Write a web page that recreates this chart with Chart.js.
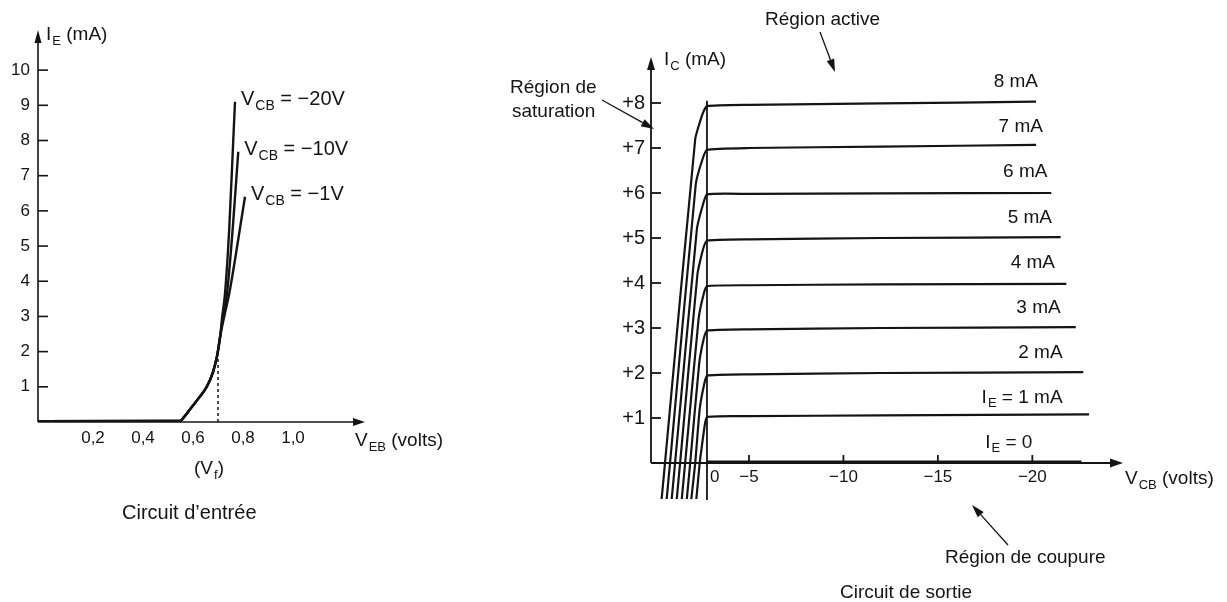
<!DOCTYPE html>
<html lang="fr">
<head>
<meta charset="utf-8">
<title>Caractéristiques du transistor en base commune</title>
<script src="https://cdn.jsdelivr.net/npm/chart.js@4.4.1/dist/chart.umd.min.js"></script>
<style>
  html, body { margin: 0; padding: 0; background: #fff; }
  body { width: 1227px; height: 602px; position: relative; overflow: hidden; }
  canvas { position: absolute; top: 0; }
  #inp { left: 0; }
  #out { left: 490px; }
</style>
</head>
<body>
<canvas id="inp" width="490" height="602"></canvas>
<canvas id="out" width="737" height="602"></canvas>
<script>
// ---------- Input characteristic: I_E (mA) vs V_EB (V) ----------
const vebTicks = [0.2, 0.4, 0.6, 0.8, 1.0];
const ieTicks = [1, 2, 3, 4, 5, 6, 7, 8, 9, 10];
const inLabels = ['V_CB = −20V', 'V_CB = −10V', 'V_CB = −1V'];

const veb20 = [-0.02, 0.548, 0.565, 0.59, 0.625, 0.655, 0.68, 0.697, 0.708, 0.717, 0.728, 0.745, 0.761, 0.768];
const ie20  = [0.02, 0.03, 0.15, 0.38, 0.7, 1.0, 1.42, 1.9, 2.4, 3.0, 3.65, 5.5, 8.0, 9.1];
const veb10 = [-0.02, 0.548, 0.565, 0.59, 0.625, 0.655, 0.68, 0.697, 0.708, 0.72, 0.736, 0.76, 0.781];
const ie10  = [0.02, 0.03, 0.15, 0.38, 0.7, 1.0, 1.42, 1.9, 2.4, 3.0, 3.65, 5.6, 7.68];
const veb1  = [-0.02, 0.548, 0.565, 0.59, 0.625, 0.655, 0.68, 0.697, 0.708, 0.725, 0.745, 0.77, 0.79, 0.808];
const ie1   = [0.02, 0.03, 0.15, 0.38, 0.7, 1.0, 1.42, 1.9, 2.4, 3.0, 3.65, 4.7, 5.6, 6.4];
const vfVeb = [0.70, 0.70];
const vfIe  = [0, 1.85];

// ---------- Output characteristic: I_C (mA) vs V_CB (V) ----------
const vcbTicks = [0, -5, -10, -15, -20];
const icTicks = [1, 2, 3, 4, 5, 6, 7, 8];
const ieSteps = [0, 1, 2, 3, 4, 5, 6, 7, 8];
const outLabels = ['I_E = 0', 'I_E = 1 mA', '2 mA', '3 mA', '4 mA', '5 mA', '6 mA', '7 mA', '8 mA'];

const vcb8 = [0.81, 0.75, 0.21, 0.08, 0, -5, -12, -20.2];
const ic8  = [-0.8, 0, 7.2, 7.75, 7.93, 7.96, 7.99, 8.03];
const vcb7 = [0.72, 0.66, 0.20, 0.08, 0, -5, -12, -20.2];
const ic7  = [-0.8, 0, 6.2, 6.75, 6.96, 7.0, 7.03, 7.07];
const vcb6 = [0.63, 0.57, 0.18, 0.07, 0, -5, -12, -21.0];
const ic6  = [-0.8, 0, 5.2, 5.75, 5.97, 5.98, 5.99, 6.0];
const vcb5 = [0.54, 0.48, 0.17, 0.07, 0, -5, -12, -21.5];
const ic5  = [-0.8, 0, 4.2, 4.75, 4.94, 4.97, 5.0, 5.02];
const vcb4 = [0.45, 0.39, 0.15, 0.06, 0, -5, -12, -21.8];
const ic4  = [-0.8, 0, 3.2, 3.75, 3.93, 3.95, 3.97, 3.98];
const vcb3 = [0.36, 0.30, 0.14, 0.06, 0, -5, -12, -22.3];
const ic3  = [-0.8, 0, 2.2, 2.75, 2.94, 2.97, 3.0, 3.02];
const vcb2 = [0.28, 0.21, 0.13, 0.05, 0, -5, -12, -22.7];
const ic2  = [-0.8, 0, 1.2, 1.75, 1.94, 1.97, 2.0, 2.02];
const vcb1 = [0.19, 0.13, 0.11, 0.05, 0, -5, -12, -23.0];
const ic1  = [-0.8, 0, 0.2, 0.75, 1.02, 1.04, 1.06, 1.08];
const vcbCut = [0, -22.6];
const icCut  = [0.03, 0.03];
const vcbZero = [0, 0];
const icZero  = [-0.82, 8.05];

// ---------- styling / layout ----------
const FAMILY = '"Liberation Sans", Arial, Helvetica, sans-serif';
const INK = '#141414';
// V_CB axis is drawn with an expanded saturation zone: [value, fraction of axis length]
const VCB_BREAKS = [[1.0, 0], [0, 0.1186], [-5, 0.2076], [-24.8, 1]];
// right edge (in V_CB) of each I_E curve label
const OUT_LABEL_V = [-20.0, -21.6, -21.6, -21.5, -21.2, -21.04, -20.8, -20.56, -20.3];

class BrokenLinearScale extends Chart.LinearScale {
  static id = 'brokenLinear';
  static defaults = {};
  _breakDecimal(v) {
    const k = VCB_BREAKS;
    let i = 0;
    while (i < k.length - 2 && v < k[i + 1][0]) i++;
    const [v0, d0] = k[i], [v1, d1] = k[i + 1];
    return d0 + (v - v0) * (d1 - d0) / (v1 - v0);
  }
  getPixelForValue(v) {
    if (v === null || v === undefined) return NaN;
    return this.getPixelForDecimal(this._breakDecimal(v));
  }
  getValueForPixel(p) {
    const d = this.getDecimalForPixel(p);
    const k = VCB_BREAKS;
    let i = 0;
    while (i < k.length - 2 && d > k[i + 1][1]) i++;
    const [v0, d0] = k[i], [v1, d1] = k[i + 1];
    return v0 + (d - d0) * (v1 - v0) / (d1 - d0);
  }
}
Chart.register(BrokenLinearScale);

const pts = (xs, ys) => xs.map((x, i) => ({ x, y: ys[i] }));

function seg(ctx, x1, y1, x2, y2) {
  ctx.beginPath(); ctx.moveTo(x1, y1); ctx.lineTo(x2, y2); ctx.stroke();
}
function arrow(ctx, x1, y1, x2, y2, len, half) {
  const a = Math.atan2(y2 - y1, x2 - x1);
  const bx = x2 - len * Math.cos(a), by = y2 - len * Math.sin(a);
  seg(ctx, x1, y1, bx, by);
  ctx.beginPath();
  ctx.moveTo(x2, y2);
  ctx.lineTo(bx + half * Math.sin(a), by - half * Math.cos(a));
  ctx.lineTo(bx - half * Math.sin(a), by + half * Math.cos(a));
  ctx.closePath(); ctx.fill();
}
// text with "_XX" subscripts
function rich(ctx, text, x, y, size, align) {
  const parts = [];
  text.split(/_([A-Za-z]+)/).forEach((s, i) => { if (s) parts.push([s, i % 2 === 1]); });
  const sub = Math.round(size * 0.68);
  const fontOf = p => (p[1] ? sub : size) + 'px ' + FAMILY;
  let w = 0;
  parts.forEach(p => { ctx.font = fontOf(p); w += ctx.measureText(p[0]).width + (p[1] ? 1 : 0); });
  let cx = align === 'right' ? x - w : align === 'center' ? x - w / 2 : x;
  ctx.textAlign = 'left'; ctx.textBaseline = 'alphabetic';
  parts.forEach(p => {
    ctx.font = fontOf(p);
    ctx.fillText(p[0], cx + (p[1] ? 1 : 0), p[1] ? y + size * 0.24 : y);
    cx += ctx.measureText(p[0]).width + (p[1] ? 1 : 0);
  });
}

const curve = (data, extra) => Object.assign({
  data, showLine: true, pointRadius: 0, borderColor: INK, borderWidth: 2.2,
  borderJoinStyle: 'round', fill: false
}, extra || {});

// ---------- decorations ----------
const inputDecor = {
  id: 'inputDecor',
  afterDraw(chart) {
    const { ctx, chartArea: a, scales: { x, y } } = chart;
    ctx.save();
    ctx.strokeStyle = INK; ctx.fillStyle = INK; ctx.lineWidth = 1.6;
    const y0 = y.getPixelForValue(0);
    arrow(ctx, a.left, y0, a.left, a.top, 13, 3.5);
    arrow(ctx, a.left, y0, a.right, y0, 12, 4);
    ieTicks.forEach(v => { const py = y.getPixelForValue(v); seg(ctx, a.left, py, a.left + 10, py); });

    const ends = [[veb20, ie20], [veb10, ie10], [veb1, ie1]];
    ends.forEach(([vx, vy], i) => {
      const px = x.getPixelForValue(vx[vx.length - 1]);
      const py = y.getPixelForValue(vy[vy.length - 1]);
      rich(ctx, inLabels[i], px + 6, py + 3, 20, 'left');
    });
    rich(ctx, 'I_E (mA)', 46, 40, 19, 'left');
    rich(ctx, 'V_EB (volts)', 355, 446, 19, 'left');
    rich(ctx, '(V_f)', 209, 474, 19, 'center');
    rich(ctx, 'Circuit d’entrée', 122, 519, 20, 'left');
    ctx.restore();
  }
};

const outputDecor = {
  id: 'outputDecor',
  afterDraw(chart) {
    const { ctx, chartArea: a, scales: { x, y } } = chart;
    ctx.save();
    ctx.strokeStyle = INK; ctx.fillStyle = INK; ctx.lineWidth = 1.8;
    const y0 = y.getPixelForValue(0);
    arrow(ctx, a.left, y0, a.left, a.top, 13, 4);
    arrow(ctx, a.left, y0, a.right, y0, 13, 4.5);
    icTicks.forEach(v => { const py = y.getPixelForValue(v); seg(ctx, a.left, py, a.left + 10, py); });
    vcbTicks.filter(v => v !== 0).forEach(v => {
      const px = x.getPixelForValue(v); seg(ctx, px, y0, px, y0 - 8);
    });
    // the origin label sits just right of the V_CB = 0 boundary line
    ctx.font = '17px ' + FAMILY; ctx.textAlign = 'left'; ctx.textBaseline = 'middle';
    ctx.fillText('0', x.getPixelForValue(0) + 3, y0 + 14);

    outLabels.forEach((t, i) => {
      rich(ctx, t, x.getPixelForValue(OUT_LABEL_V[i]), y.getPixelForValue(ieSteps[i] + 0.5) + 7, 19, 'right');
    });

    rich(ctx, 'I_C (mA)', 174, 65, 19, 'left');
    rich(ctx, 'V_CB (volts)', 635, 484, 19, 'left');
    rich(ctx, 'Région active', 275, 25, 19, 'left');
    rich(ctx, 'Région de', 20, 93, 19, 'left');
    rich(ctx, 'saturation', 22, 117, 19, 'left');
    rich(ctx, 'Région de coupure', 455, 563, 19, 'left');
    rich(ctx, 'Circuit de sortie', 350, 598, 19, 'left');

    ctx.lineWidth = 1.3;
    arrow(ctx, 330, 32, 345, 72, 13, 4);
    arrow(ctx, 112, 100, 164, 129, 13, 4);
    arrow(ctx, 518, 545, 482, 505, 13, 4);
    ctx.restore();
  }
};

const tickFont = size => ({ family: FAMILY, size });
const noGrid = { display: false, drawTicks: false };

// ---------- input chart ----------
new Chart(document.getElementById('inp'), {
  type: 'scatter',
  data: {
    datasets: [
      curve(pts(veb20, ie20), { cubicInterpolationMode: 'monotone', borderWidth: 2.4 }),
      curve(pts(veb10, ie10), { cubicInterpolationMode: 'monotone', borderWidth: 2.4 }),
      curve(pts(veb1, ie1), { cubicInterpolationMode: 'monotone', borderWidth: 2.4 }),
      curve(pts(vfVeb, vfIe), { borderDash: [3, 3], borderWidth: 1.5 })
    ]
  },
  options: {
    responsive: false, animation: false, events: [],
    layout: { padding: { left: 0, top: 30, right: 125, bottom: 0 } },
    plugins: { legend: { display: false }, tooltip: { enabled: false } },
    scales: {
      x: {
        type: 'linear', min: -0.02, max: 1.288,
        grid: noGrid, border: { display: false },
        afterBuildTicks: s => { s.ticks = vebTicks.map(v => ({ value: v })); },
        afterFit: s => { s.height = 180; },
        ticks: {
          autoSkip: false, maxRotation: 0, padding: 6, color: INK, font: tickFont(17),
          callback: v => Number(v).toFixed(1).replace('.', ',')
        }
      },
      y: {
        type: 'linear', min: 0, max: 11.14,
        grid: noGrid, border: { display: false },
        afterBuildTicks: s => { s.ticks = ieTicks.map(v => ({ value: v })); },
        afterFit: s => { s.width = 38; },
        ticks: { autoSkip: false, padding: 8, color: INK, font: tickFont(17), callback: v => String(v) }
      }
    }
  },
  plugins: [inputDecor]
});

// ---------- output chart ----------
new Chart(document.getElementById('out'), {
  type: 'scatter',
  data: {
    datasets: [
      curve(pts(vcbZero, icZero), { borderWidth: 1.8 }),
      curve(pts(vcbCut, icCut), { borderWidth: 2.4 }),
      curve(pts(vcb1, ic1), { tension: 0.15 }),
      curve(pts(vcb2, ic2), { tension: 0.15 }),
      curve(pts(vcb3, ic3), { tension: 0.15 }),
      curve(pts(vcb4, ic4), { tension: 0.15 }),
      curve(pts(vcb5, ic5), { tension: 0.15 }),
      curve(pts(vcb6, ic6), { tension: 0.15 }),
      curve(pts(vcb7, ic7), { tension: 0.15 }),
      curve(pts(vcb8, ic8), { tension: 0.15 })
    ]
  },
  options: {
    responsive: false, animation: false, events: [],
    layout: { padding: { left: 0, top: 57, right: 104, bottom: 101 } },
    plugins: { legend: { display: false }, tooltip: { enabled: false } },
    scales: {
      x: {
        type: 'brokenLinear', min: -24.8, max: 1.0, position: { y: 0 },
        grid: noGrid, border: { display: false },
        afterBuildTicks: s => { s.ticks = vcbTicks.map(v => ({ value: v })); },
        ticks: {
          autoSkip: false, maxRotation: 0, padding: 4, color: INK, font: tickFont(17),
          callback: v => (v === 0 ? '' : '−' + Math.abs(v))
        }
      },
      y: {
        type: 'linear', min: -0.844, max: 9.022,
        grid: noGrid, border: { display: false },
        afterBuildTicks: s => { s.ticks = icTicks.map(v => ({ value: v })); },
        afterFit: s => { s.width = 161; },
        ticks: { autoSkip: false, padding: 6, color: INK, font: tickFont(20), callback: v => '+' + v }
      }
    }
  },
  plugins: [outputDecor]
});
</script>
</body>
</html>
